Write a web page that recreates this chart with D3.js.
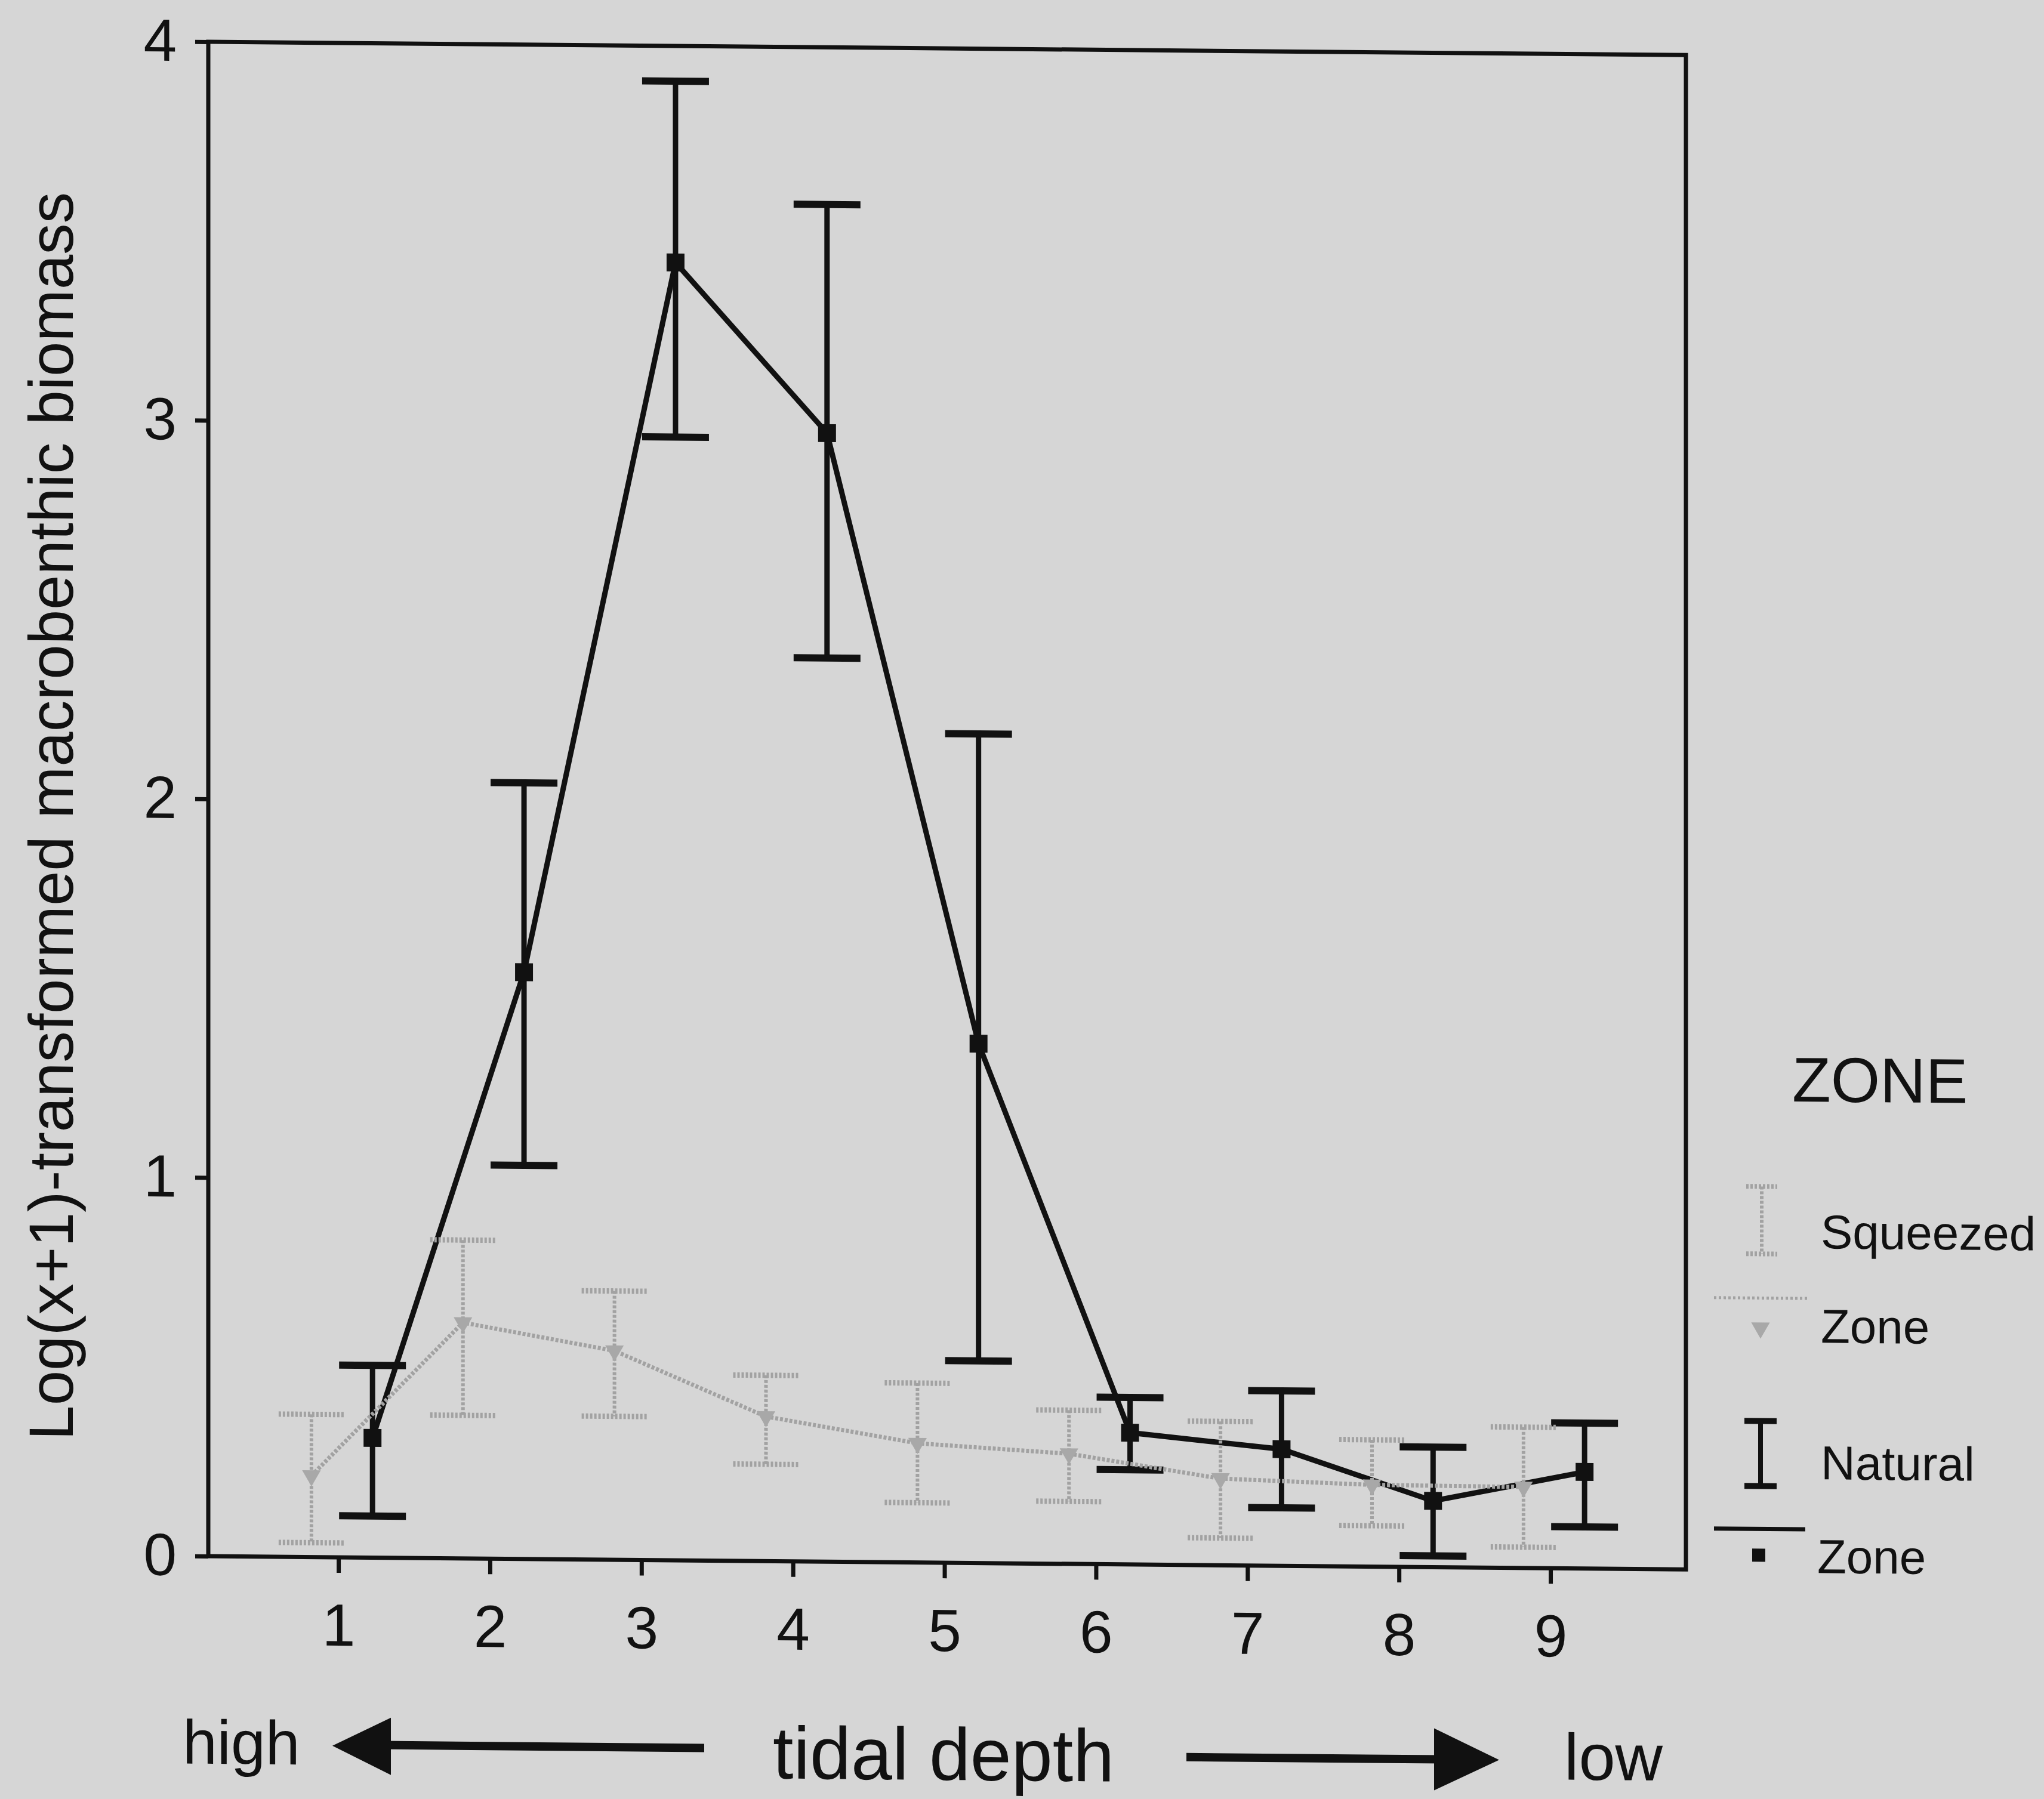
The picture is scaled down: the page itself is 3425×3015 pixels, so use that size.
<!DOCTYPE html>
<html>
<head>
<meta charset="utf-8">
<script src="https://cdn.jsdelivr.net/npm/d3@7"></script>
<style>
  html, body { margin: 0; padding: 0; background: #d6d6d6; }
  svg { display: block; }
  text { font-family: "Liberation Sans", Arial, sans-serif; fill: #111; }
</style>
</head>
<body>
<script>
// ---- data ----
const categories = [1, 2, 3, 4, 5, 6, 7, 8, 9];
const yTicks = [0, 1, 2, 3, 4];
const squeezedMean  = [0.215, 0.623, 0.552, 0.382, 0.315, 0.291, 0.229, 0.216, 0.214];
const squeezedUpper = [0.377, 0.841, 0.710, 0.491, 0.474, 0.406, 0.380, 0.335, 0.372];
const squeezedLower = [0.038, 0.378, 0.379, 0.256, 0.158, 0.165, 0.072, 0.108, 0.055];
const naturalMean   = [0.316, 1.550, 3.428, 2.981, 1.372, 0.348, 0.308, 0.175, 0.255];
const naturalUpper  = [0.508, 2.050, 3.907, 3.585, 2.190, 0.441, 0.462, 0.317, 0.384];
const naturalLower  = [0.110, 1.040, 2.967, 2.387, 0.534, 0.250, 0.153, 0.030, 0.110];
const legendTitle = "ZONE";
const legendLabels = [["Squeezed", "Zone"], ["Natural", "Zone"]];
const yTitle = "Log(x+1)-transformed macrobenthic biomass";
const captionWords = ["high", "tidal depth", "low"];

// ---- layout ----
const W = 3425, H = 3015;
const L = 349, R = 2825, T = 70, B = 2608;
const skew = 0.009;
const offS = -0.178, offN = 0.225;
const grayCol = "#a2a2a2";

const svg = d3.select("body").append("svg").attr("width", W).attr("height", H);
svg.append("rect").attr("width", W).attr("height", H).attr("fill", "#d6d6d6");

const g = svg.append("g").attr("transform", `matrix(1,${skew},0,1,0,${-skew * L})`);

const x = d3.scaleLinear().domain([0.141, 9.894]).range([L, R]);
const y = d3.scaleLinear().domain([0, 4]).range([B, T]);

// axes
const yAxis = g.append("g").attr("transform", `translate(${L},0)`)
  .call(d3.axisLeft(y).tickValues(yTicks).tickFormat(d3.format("d")).tickSize(22).tickPadding(31));
const xAxis = g.append("g").attr("transform", `translate(0,${B})`)
  .call(d3.axisBottom(x).tickValues(categories).tickFormat(d3.format("d")).tickSize(26).tickPadding(51));
[yAxis, xAxis].forEach(a => {
  a.select(".domain").remove();
  a.selectAll(".tick line").attr("stroke", "#111").attr("stroke-width", 7);
  a.selectAll(".tick text").attr("font-size", 100).attr("fill", "#111")
    .style("font-family", "'Liberation Sans', Arial, sans-serif");
});

// frame
g.append("rect").attr("x", L).attr("y", T).attr("width", R - L).attr("height", B - T)
  .attr("fill", "none").attr("stroke", "#111").attr("stroke-width", 7);

// y title
g.append("text")
  .attr("transform", `translate(122,1370) rotate(-90)`)
  .attr("text-anchor", "middle").attr("font-size", 105).text(yTitle);

// ---- Natural series (black) ----
const nat = categories.map((c, i) => ({ c, m: naturalMean[i], hi: naturalUpper[i], lo: naturalLower[i] }));
const sq  = categories.map((c, i) => ({ c, m: squeezedMean[i], hi: squeezedUpper[i], lo: squeezedLower[i] }));

const capHalf = 56;
const ng = g.append("g");
ng.selectAll("line.v").data(nat).join("line")
  .attr("x1", d => x(d.c + offN)).attr("x2", d => x(d.c + offN))
  .attr("y1", d => y(d.hi)).attr("y2", d => y(d.lo))
  .attr("stroke", "#111").attr("stroke-width", 9);
["hi", "lo"].forEach(k => {
  ng.selectAll("line.c" + k).data(nat).join("line")
    .attr("x1", d => x(d.c + offN) - capHalf).attr("x2", d => x(d.c + offN) + capHalf)
    .attr("y1", d => y(d[k])).attr("y2", d => y(d[k]))
    .attr("stroke", "#111").attr("stroke-width", 12);
});
ng.append("path").datum(nat)
  .attr("d", d3.line().x(d => x(d.c + offN)).y(d => y(d.m)))
  .attr("fill", "none").attr("stroke", "#111").attr("stroke-width", 9);
ng.selectAll("path.m").data(nat).join("path")
  .attr("transform", d => `translate(${x(d.c + offN)},${y(d.m)})`)
  .attr("d", d3.symbol(d3.symbolSquare, 900)).attr("fill", "#111");

// ---- Squeezed series (gray, hatched look) ----
const sg = g.append("g");
sg.append("path").datum(sq)
  .attr("d", d3.line().x(d => x(d.c + offS)).y(d => y(d.m)))
  .attr("fill", "none").attr("stroke", grayCol).attr("stroke-width", 7)
  .attr("stroke-dasharray", "5,3");
sg.selectAll("line.v").data(sq).join("line")
  .attr("x1", d => x(d.c + offS)).attr("x2", d => x(d.c + offS))
  .attr("y1", d => y(d.hi)).attr("y2", d => y(d.lo))
  .attr("stroke", grayCol).attr("stroke-width", 6).attr("stroke-dasharray", "5,3");
["hi", "lo"].forEach(k => {
  sg.selectAll("line.c" + k).data(sq).join("line")
    .attr("x1", d => x(d.c + offS) - 55).attr("x2", d => x(d.c + offS) + 55)
    .attr("y1", d => y(d[k])).attr("y2", d => y(d[k]))
    .attr("stroke", grayCol).attr("stroke-width", 9).attr("stroke-dasharray", "4,3");
});
sg.selectAll("path.m").data(sq).join("path")
  .attr("transform", d => `translate(${x(d.c + offS)},${y(d.m)}) rotate(180)`)
  .attr("d", d3.symbol(d3.symbolTriangle, 420)).attr("fill", "#a8a8a8");

// ---- legend ----
const lg = g.append("g");
lg.append("text").attr("x", 3003).attr("y", 1822).attr("font-size", 106).text(legendTitle);
// squeezed icon
lg.append("line").attr("x1", 2952).attr("x2", 2952).attr("y1", 1965).attr("y2", 2078)
  .attr("stroke", grayCol).attr("stroke-width", 6).attr("stroke-dasharray", "5,3");
[1965, 2078].forEach(yy => lg.append("line").attr("x1", 2926).attr("x2", 2978).attr("y1", yy).attr("y2", yy)
  .attr("stroke", grayCol).attr("stroke-width", 8).attr("stroke-dasharray", "4,3"));
lg.append("line").attr("x1", 2872).attr("x2", 3032).attr("y1", 2152).attr("y2", 2152)
  .attr("stroke", grayCol).attr("stroke-width", 5).attr("stroke-dasharray", "4,4");
lg.append("path").attr("transform", "translate(2950,2202) rotate(180)")
  .attr("d", d3.symbol(d3.symbolTriangle, 420)).attr("fill", "#a8a8a8");
lg.append("text").attr("x", 3051).attr("y", 2068).attr("font-size", 80).text(legendLabels[0][0]);
lg.append("text").attr("x", 3051).attr("y", 2226).attr("font-size", 80).text(legendLabels[0][1]);
// natural icon
lg.append("line").attr("x1", 2950).attr("x2", 2950).attr("y1", 2358).attr("y2", 2467)
  .attr("stroke", "#111").attr("stroke-width", 8);
[2358, 2467].forEach(yy => lg.append("line").attr("x1", 2923).attr("x2", 2977).attr("y1", yy).attr("y2", yy)
  .attr("stroke", "#111").attr("stroke-width", 10));
lg.append("line").attr("x1", 2872).attr("x2", 3025).attr("y1", 2539).attr("y2", 2539)
  .attr("stroke", "#111").attr("stroke-width", 7);
lg.append("path").attr("transform", "translate(2947,2583)")
  .attr("d", d3.symbol(d3.symbolSquare, 484)).attr("fill", "#111");
lg.append("text").attr("x", 3051).attr("y", 2455).attr("font-size", 80).text(legendLabels[1][0]);
lg.append("text").attr("x", 3045).attr("y", 2612).attr("font-size", 80).text(legendLabels[1][1]);

// ---- caption with arrows ----
const cg = g.append("g");
cg.append("text").attr("x", 306).attr("y", 2956).attr("font-size", 104).text(captionWords[0]);
cg.append("text").attr("x", 1295).attr("y", 2972).attr("font-size", 124).text(captionWords[1]);
cg.append("text").attr("x", 2621).attr("y", 2962).attr("font-size", 110).text(captionWords[2]);
// left arrow
cg.append("rect").attr("x", 640).attr("y", 2915).attr("width", 540).attr("height", 14).attr("fill", "#111");
cg.append("path").attr("d", "M557,2924 L655,2876 L655,2972 Z").attr("fill", "#111");
// right arrow
cg.append("rect").attr("x", 1988).attr("y", 2923).attr("width", 430).attr("height", 14).attr("fill", "#111");
cg.append("path").attr("d", "M2512,2930 L2403,2878 L2403,2982 Z").attr("fill", "#111");
</script>
</body>
</html>
